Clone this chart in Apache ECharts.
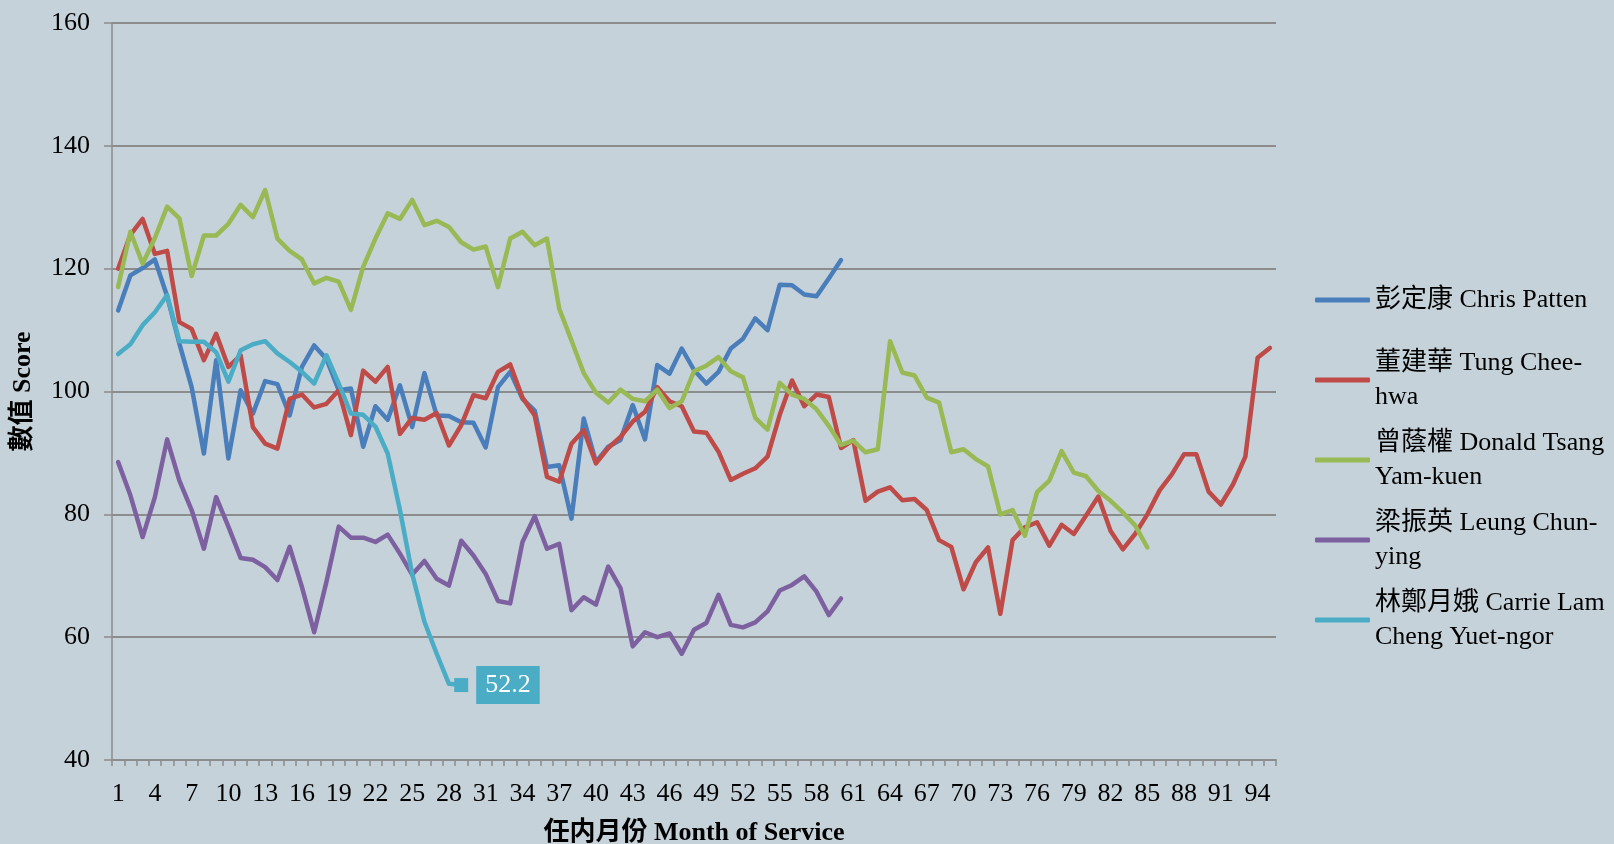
<!DOCTYPE html>
<html>
<head>
<meta charset="utf-8">
<title>Month of Service</title>
<script src="https://cdn.jsdelivr.net/npm/echarts@6/dist/echarts.min.js"></script>
<style>
  html, body { margin: 0; padding: 0; background: #C6D2D9; }
  #main { width: 1614px; height: 844px; }
</style>
</head>
<body>
<div id="main"></div>
<script>
// months 1..95
const months = []
for (let m = 1; m <= 95; m++) months.push(String(m))

const names = [
  '彭定康 Chris Patten',
  '董建華 Tung Chee-\nhwa',
  '曾蔭權 Donald Tsang\nYam-kuen',
  '梁振英 Leung Chun-\nying',
  '林鄭月娥 Carrie Lam\nCheng Yuet-ngor'
]

const patten = [113.2, 118.9, 120.1, 121.5, 115.5, 107.8, 100.7, 89.9, 105.1, 89.1,
  100.2, 96.4, 101.7, 101.2, 96.1, 104.0, 107.5, 105.3, 100.2, 100.5,
  91.0, 97.6, 95.4, 101.0, 94.2, 103.0, 96.1, 96.0, 95.0, 94.9,
  90.9, 100.7, 103.2, 98.8, 96.9, 87.7, 88.0, 79.3, 95.6, 88.5,
  91.0, 92.1, 97.8, 92.2, 104.3, 102.9, 107.0, 103.5, 101.3, 103.2,
  107.0, 108.6, 111.9, 110.0, 117.4, 117.3, 115.8, 115.5, 118.4, 121.4]

const tung = [120.0, 125.5, 128.1, 122.4, 122.9, 111.3, 110.2, 105.1, 109.4, 104.0,
  105.9, 94.2, 91.5, 90.7, 98.8, 99.5, 97.4, 98.0, 100.2, 92.9,
  103.4, 101.6, 104.0, 93.1, 95.7, 95.4, 96.5, 91.2, 94.5, 99.4,
  98.9, 103.2, 104.4, 99.0, 96.1, 86.1, 85.3, 91.5, 93.7, 88.3,
  90.8, 92.6, 95.1, 96.7, 100.7, 98.4, 97.6, 93.5, 93.3, 90.2,
  85.6, 86.6, 87.5, 89.4, 96.2, 101.8, 97.6, 99.5, 99.1, 90.8,
  92.1, 82.2, 83.7, 84.4, 82.3, 82.5, 80.7, 75.8, 74.7, 67.8,
  72.2, 74.6, 63.8, 75.8, 77.9, 78.7, 74.9, 78.3, 76.8, 79.8,
  82.9, 77.3, 74.3, 76.8, 80.0, 83.9, 86.5, 89.8, 89.8, 83.7,
  81.6, 84.9, 89.4, 105.5, 107.1]

const tsang = [117.0, 126.0, 120.8, 125.0, 130.1, 128.2, 118.8, 125.4, 125.4, 127.3,
  130.4, 128.4, 132.8, 124.9, 122.9, 121.5, 117.6, 118.5, 117.9, 113.3,
  120.3, 124.9, 129.0, 128.1, 131.2, 127.1, 127.8, 126.8, 124.3, 123.1,
  123.6, 117.0, 124.9, 126.0, 123.8, 124.9, 113.5, 108.3, 103.0, 99.8,
  98.2, 100.3, 98.8, 98.4, 100.3, 97.3, 98.4, 103.3, 104.2, 105.6,
  103.3, 102.3, 95.7, 93.8, 101.4, 99.5, 98.8, 97.1, 94.4, 91.3,
  92.0, 90.1, 90.6, 108.2, 103.1, 102.6, 99.0, 98.2, 90.1, 90.6,
  89.0, 87.8, 80.0, 80.7, 76.5, 83.6, 85.5, 90.3, 86.8, 86.2,
  83.8, 82.2, 80.3, 78.2, 74.6]

const leung = [88.5, 83.1, 76.3, 82.8, 92.2, 85.5, 80.7, 74.4, 82.8, 78.0,
  72.9, 72.6, 71.4, 69.3, 74.7, 68.2, 60.8, 69.0, 78.0, 76.2,
  76.2, 75.5, 76.7, 73.6, 70.2, 72.4, 69.5, 68.4, 75.7, 73.3,
  70.3, 65.9, 65.5, 75.5, 79.7, 74.4, 75.2, 64.4, 66.5, 65.3,
  71.5, 68.0, 58.5, 60.8, 60.0, 60.6, 57.3, 61.2, 62.3, 66.9,
  62.0, 61.6, 62.4, 64.2, 67.6, 68.5, 69.9, 67.4, 63.6, 66.3]

const lam = [106.1, 107.7, 110.8, 112.9, 115.7, 108.2, 108.1, 108.1, 106.4, 101.6,
  106.7, 107.7, 108.2, 106.2, 104.8, 103.2, 101.3, 105.9, 101.3, 96.4,
  96.2, 94.3, 89.9, 80.7, 70.3, 62.5, 57.3, 52.4, 52.2]

const colors = ['#4A7EBB', '#BE4B48', '#98B954', '#7D60A0', '#4BACC6']
const fontFam = '"Liberation Serif", "Times New Roman", "Noto Sans CJK TC", serif'

const chart = echarts.init(document.getElementById('main'))

// 最后一个点加方块和数值标签
const lamData = lam.map(function (v, i) {
  if (i !== lam.length - 1) return v
  return {
    value: v,
    symbol: 'rect',
    symbolSize: 14,
    label: {
      show: true,
      position: 'right',
      distance: 8,
      color: '#fff',
      backgroundColor: colors[4],
      padding: [4, 9, 4, 9],
      fontFamily: fontFam,
      fontSize: 26,
      lineHeight: 30
    }
  }
})

const allData = [patten, tung, tsang, leung, lamData]
const legendY = [300, 380, 460, 540, 620]

const series = allData.map(function (d, i) {
  return {
    name: names[i],
    type: 'line',
    data: d,
    symbol: 'none',
    showAllSymbol: true,
    animation: false,
    lineStyle: { width: 4.5, color: colors[i], cap: 'round', join: 'round' },
    itemStyle: { color: colors[i] },
    label: { show: false },
    z: i === 4 ? 3 : 2
  }
})

const legends = names.map(function (n, i) {
  const twoLine = n.indexOf('\n') >= 0
  return {
    data: [n],
    orient: 'vertical',
    left: 1315,
    top: twoLine ? legendY[i] - 51 : legendY[i] - 17,
    padding: 0,
    icon: 'roundRect',
    itemWidth: 55,
    itemHeight: 5,
    itemGap: 0,
    selectedMode: false,
    textStyle: {
      fontFamily: fontFam,
      fontSize: 26,
      color: '#000',
      lineHeight: 34,
      padding: twoLine ? [34, 0, 0, 0] : 0
    }
  }
})

chart.setOption({
  backgroundColor: '#C6D2D9',
  color: colors,
  animation: false,
  legend: legends,
  grid: { left: 112, right: 338, top: 23, bottom: 84, containLabel: false, outerBoundsMode: 'none' },
  xAxis: {
    type: 'category',
    data: months,
    boundaryGap: true,
    name: '任内月份 Month of Service',
    nameLocation: 'middle',
    nameGap: 60,
    nameTextStyle: { fontFamily: fontFam, fontSize: 26, fontWeight: 'bold', color: '#000' },
    axisLine: { lineStyle: { color: '#8C8C8C', width: 2 } },
    axisTick: { show: true, interval: 0, alignWithLabel: false, length: 6, lineStyle: { color: '#8C8C8C', width: 1.5 } },
    axisLabel: { interval: 2, margin: 21, fontFamily: fontFam, fontSize: 26, color: '#000' },
    splitLine: { show: false }
  },
  yAxis: {
    type: 'value',
    min: 40,
    max: 160,
    interval: 20,
    name: '數值 Score',
    nameLocation: 'middle',
    nameRotate: 90,
    nameGap: 76,
    nameTextStyle: { fontFamily: fontFam, fontSize: 26, fontWeight: 'bold', color: '#000' },
    axisLine: { show: true, lineStyle: { color: '#8C8C8C', width: 1.5 } },
    axisTick: { show: true, length: 8, lineStyle: { color: '#8C8C8C', width: 1.5 } },
    axisLabel: { margin: 22, fontFamily: fontFam, fontSize: 26, color: '#000' },
    splitLine: { lineStyle: { color: '#8C8C8C', width: 2 } }
  },
  series: series
})
</script>
</body>
</html>
